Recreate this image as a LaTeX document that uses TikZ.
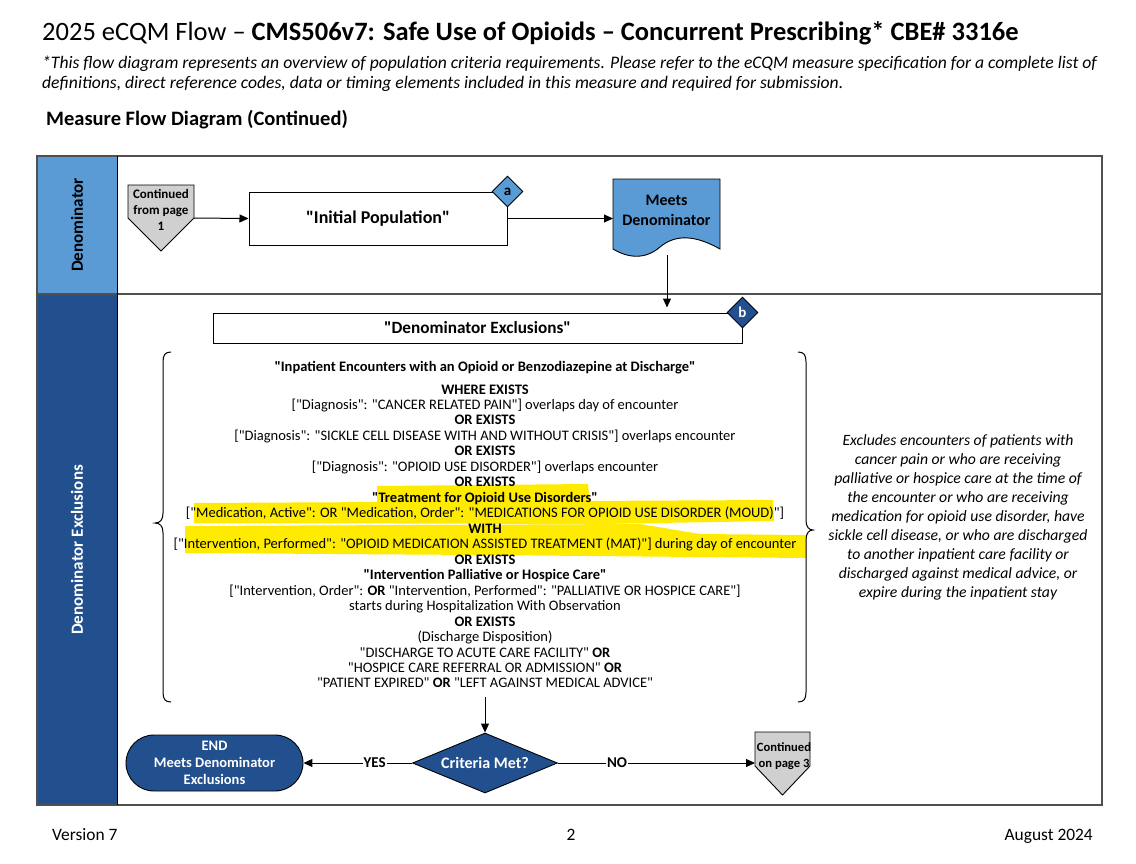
\documentclass[tikz,border=0pt]{standalone}
\usepackage{fontspec}
\newfontfamily\calfont{Carlito}
\usetikzlibrary{shapes.geometric,arrows.meta,calc}
\definecolor{lblue}{HTML}{5B9BD5}
\definecolor{dblue}{HTML}{22508E}
\definecolor{cgray}{HTML}{D0D0D0}
\definecolor{hl}{HTML}{FFEB00}
\definecolor{frame}{HTML}{505050}
\begin{document}
\begin{tikzpicture}[x=1pt,y=-1pt,
  every node/.style={font=\calfont},
  arr/.style={-{Triangle[length=9pt,width=8pt]},line width=1pt},
  conn/.style={draw=black,fill=cgray,line width=0.9pt,line join=miter},
  ctext/.style={font=\calfont\fontsize{13}{16}\selectfont\bfseries,align=center,inner sep=0},
  procbox/.style={draw=black,line width=1pt,fill=white,rectangle,inner sep=0},
  lbl/.style={font=\calfont\fontsize{15}{16}\selectfont\bfseries,fill=white,inner sep=1pt},
  ln/.style={anchor=base,inner sep=0,font=\calfont\fontsize{14.5}{15}\selectfont},
  smalldia/.style={diamond,draw=black,line width=0.9pt,minimum width=31pt,minimum height=31pt,inner sep=0,font=\calfont\fontsize{15}{15}\selectfont\bfseries}]
\useasboundingbox (0,0) rectangle (1136,863);

% header texts
\node[anchor=base west,inner sep=0,font=\calfont\fontsize{26.5}{30}\selectfont] (title) at (42,40)
  {2025 eCQM Flow – \textbf{CMS506v7: Safe Use of Opioids – Concurrent Prescribing* CBE\# 3316e}};
\node[anchor=base west,inner sep=0,font=\calfont\fontsize{17.6}{20}\selectfont\itshape] (sub1) at (42,68)
  {*This flow diagram represents an overview of population criteria requirements. Please refer to the eCQM measure specification for a complete list of};
\node[anchor=base west,inner sep=0,font=\calfont\fontsize{17.6}{20}\selectfont\itshape] (sub2) at (42,88)
  {definitions, direct reference codes, data or timing elements included in this measure and required for submission.};
\node[anchor=base west,inner sep=0,font=\calfont\fontsize{20.5}{24}\selectfont\bfseries] (mfd) at (46,125)
  {Measure Flow Diagram (Continued)};

% swimlanes
\fill[lblue] (37,156) rectangle (117,294);
\fill[dblue] (37,294) rectangle (117,805);
\draw[frame,line width=1.3pt] (37,156) rectangle (1102,805);
\draw[frame,line width=1.3pt] (37,294) -- (1102,294);
\draw[black,line width=1pt] (117,156) -- (117,805);
\node[rotate=90,inner sep=0,font=\calfont\fontsize{17}{18}\selectfont\bfseries] (lane1) at (77,225) {Denominator};
\node[rotate=90,inner sep=0,text=white,font=\calfont\fontsize{17}{18}\selectfont\bfseries] (lane2) at (77,550) {Denominator Exclusions};

% continued from page 1
\draw[conn] (128,185) -- (194,185) -- (194,218) -- (161,251) -- (128,218) -- cycle;
\coordinate (c1e) at (194,218);
\node[ctext] (c1) at (161,210) {Continued\\from page\\1};

% initial population
\node[procbox,minimum width=258pt,minimum height=53pt,font=\calfont\fontsize{18}{20}\selectfont\bfseries] (ip) at (378,218.5) {"Initial Population"};
\node[smalldia,fill=lblue] (da) at (ip.north east) {a};

% meets denominator (document shape)
\draw[fill=lblue,draw=black,line width=0.9pt] (613,179) -- (720,179) -- (720,249)
  .. controls (690,232) and (672,237) .. (660,247)
  .. controls (645,260) and (628,258) .. (613,249) -- cycle;
\node[inner sep=0,align=center,font=\calfont\fontsize{16}{20}\selectfont\bfseries] (md) at (666.5,210) {Meets\\Denominator};
\coordinate (mdw) at (613,218.5);
\coordinate (mdb) at (667,255);

\draw[arr] (c1e) -- (ip.west);
\draw[arr] (ip.east) -- (mdw);

% denominator exclusions
\node[procbox,minimum width=529pt,minimum height=30pt,font=\calfont\fontsize{17.2}{19}\selectfont\bfseries] (de) at (477.5,328) {"Denominator Exclusions"};
\node[smalldia,fill=dblue,text=white] (db) at (de.north east) {b};
\draw[arr,shorten >=5pt] (mdb) -- (mdb |- de.north);

% highlights
\fill[hl] (377,486) -- (588,484) -- (590,504) -- (377,505) -- cycle;
\fill[hl] (194,503) -- (773,500) -- (774,521) -- (600,524) -- (194,523) -- cycle;
\fill[hl] (185,526) -- (640,524) -- (700,534) -- (806,535) -- (806,558) -- (480,555) -- (185,553) -- cycle;

% criteria text
\node[ln,font=\calfont\fontsize{14.5}{15}\selectfont\bfseries] (ttl) at (485,371) {"Inpatient Encounters with an Opioid or Benzodiazepine at Discharge"};
\foreach \t [count=\i from 0] in {
  {\textbf{WHERE EXISTS}},
  {["Diagnosis": "CANCER RELATED PAIN"] overlaps day of encounter},
  {\textbf{OR EXISTS}},
  {["Diagnosis": "SICKLE CELL DISEASE WITH AND WITHOUT CRISIS"] overlaps encounter},
  {\textbf{OR EXISTS}},
  {["Diagnosis": "OPIOID USE DISORDER"] overlaps encounter},
  {\textbf{OR EXISTS}},
  {\textbf{"Treatment for Opioid Use Disorders"}},
  {["Medication, Active": OR "Medication, Order": "MEDICATIONS FOR OPIOID USE DISORDER (MOUD)"]},
  {\textbf{WITH}},
  {["Intervention, Performed": "OPIOID MEDICATION ASSISTED TREATMENT (MAT)"] during day of encounter},
  {\textbf{OR EXISTS}},
  {\textbf{"Intervention Palliative or Hospice Care"}},
  {["Intervention, Order": \textbf{OR} "Intervention, Performed": "PALLIATIVE OR HOSPICE CARE"]},
  {starts during Hospitalization With Observation},
  {\textbf{OR EXISTS}},
  {(Discharge Disposition)},
  {"DISCHARGE TO ACUTE CARE FACILITY" \textbf{OR}},
  {"HOSPICE CARE REFERRAL OR ADMISSION" \textbf{OR}},
  {"PATIENT EXPIRED" \textbf{OR} "LEFT AGAINST MEDICAL ADVICE"}}
  \node[ln] (l\i) at (485,{394+15.47*\i}) {\t};

% braces
\draw[black,line width=1pt] (171,352) .. controls (165,352) and (163,355) .. (163,362) -- (163,513)
  .. controls (163,520) and (160,523) .. (155,523) .. controls (160,523) and (163,526) .. (163,533)
  -- (163,692) .. controls (163,699) and (165,702) .. (171,702);
\draw[black,line width=1pt] (798,352) .. controls (804,352) and (806,355) .. (806,362) -- (806,520)
  .. controls (806,527) and (809,530) .. (813,530) .. controls (809,530) and (806,533) .. (806,540)
  -- (806,692) .. controls (806,699) and (804,702) .. (798,702);
\coordinate (bb) at (485,697);

% description
\node[align=center,inner sep=0,font=\calfont\fontsize{15.7}{19}\selectfont\itshape] (desc) at (958,517)
  {Excludes encounters of patients with\\cancer pain or who are receiving\\palliative or hospice care at the time of\\the encounter or who are receiving\\medication for opioid use disorder, have\\sickle cell disease, or who are discharged\\to another inpatient care facility or\\discharged against medical advice, or\\expire during the inpatient stay};

% decision
\node[diamond,aspect=2.6,draw=black,line width=0.9pt,fill=dblue,text=white,minimum width=145pt,minimum height=60pt,inner sep=0,font=\calfont\fontsize{16}{18}\selectfont\bfseries] (cm) at (485,763) {Criteria Met?};
\draw[arr] (bb) -- (cm.north);

% end terminal
\node[draw=black,line width=0.9pt,fill=dblue,text=white,rounded corners=28pt,minimum width=177pt,minimum height=56pt,inner sep=0,align=center,font=\calfont\fontsize{14.5}{17}\selectfont\bfseries] (endt) at (214.5,763) {END\\Meets Denominator\\Exclusions};

% continued on page 3
\draw[conn] (755,732) -- (810,732) -- (810,766) -- (782.5,795) -- (755,766) -- cycle;
\node[ctext,font=\calfont\fontsize{12.6}{16}\selectfont\bfseries] (c3) at (784,756) {Continued\\on page 3};
\coordinate (c3w) at (755,763);

\draw[arr] (cm.west) -- node[lbl,pos=0.345] (yes) {YES} (endt.east);
\draw[arr] (cm.east) -- node[lbl,pos=0.30] (no) {NO} (c3w);

% footer
\node[anchor=base west,inner sep=0,font=\calfont\fontsize{17.4}{20}\selectfont] (ver) at (52,840) {Version 7};
\node[anchor=base,inner sep=0,font=\calfont\fontsize{17.4}{20}\selectfont] (pg) at (571,840) {2};
\node[anchor=base east,inner sep=0,font=\calfont\fontsize{17.4}{20}\selectfont] (date) at (1093,840) {August 2024};
\end{tikzpicture}
\end{document}
